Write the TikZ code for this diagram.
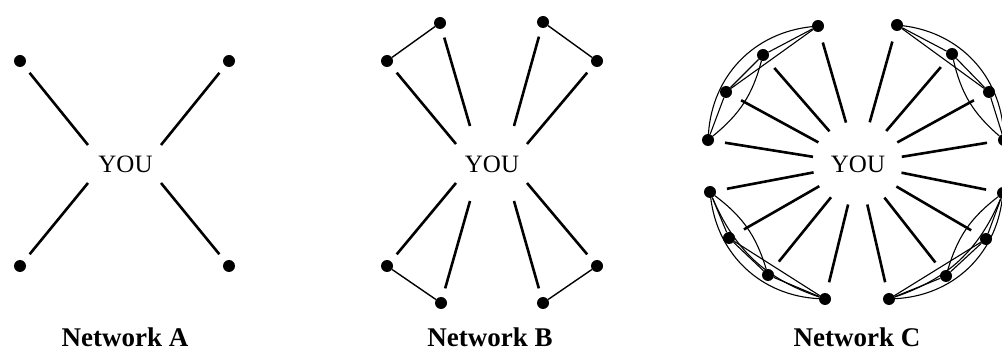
\documentclass[tikz,border=0pt]{standalone}
\usepackage{fontspec}
\setmainfont{Liberation Serif}
\usetikzlibrary{calc}
\begin{document}
\begin{tikzpicture}[x=1pt,y=1pt,
  dot/.style={circle,fill=black,minimum size=12pt,inner sep=0pt},
  you/.style={font=\fontsize{25}{25}\selectfont,inner sep=0pt},
  lbl/.style={font=\fontsize{27}{27}\selectfont\bfseries,inner sep=0pt},
  spoke/.style={line width=2.6pt,shorten <=9pt},
  spokec/.style={line width=2.6pt,shorten <=11pt},
  link/.style={line width=1.4pt},
  thin/.style={line width=1.1pt}]
\useasboundingbox (0,0) rectangle (1002,351);
% ---------- Network A ----------
\node[you] (youA) at (125.5,187) {YOU};
\node[dot] (a1) at (20,290) {};
\node[dot] (a2) at (229,290) {};
\node[dot] (a3) at (20,85) {};
\node[dot] (a4) at (229,85) {};
\coordinate (ta1) at (88,206);
\coordinate (ta2) at (161,206);
\coordinate (ta3) at (88,168);
\coordinate (ta4) at (161,168);
\draw[spoke] (a1) -- (ta1);
\draw[spoke] (a2) -- (ta2);
\draw[spoke] (a3) -- (ta3);
\draw[spoke] (a4) -- (ta4);
\node[lbl] (labA) at (125,14) {Network A};
% ---------- Network B ----------
\node[you] (youB) at (492,187) {YOU};
\node[dot] (b1) at (387,290) {};
\node[dot] (b2) at (440,328) {};
\node[dot] (b3) at (543,329) {};
\node[dot] (b4) at (597,290) {};
\node[dot] (b5) at (387,85) {};
\node[dot] (b6) at (441,48) {};
\node[dot] (b7) at (543,48) {};
\node[dot] (b8) at (597,85) {};
\coordinate (tb1) at (456,207);
\coordinate (tb2) at (470,225);
\coordinate (tb3) at (514,225);
\coordinate (tb4) at (527,207);
\coordinate (tb5) at (456,168);
\coordinate (tb6) at (470,150);
\coordinate (tb7) at (514,150);
\coordinate (tb8) at (527,168);
\foreach \i in {1,...,8} {\draw[spoke] (b\i) -- (tb\i);}
\draw[link] (b1) -- (b2);
\draw[link] (b3) -- (b4);
\draw[link] (b5) -- (b6);
\draw[link] (b7) -- (b8);
\node[lbl] (labB) at (490,14) {Network B};
% ---------- Network C ----------
\node[you] (youC) at (858,187) {YOU};
\node[dot] (c1) at (708,211) {};
\node[dot] (c2) at (726,259) {};
\node[dot] (c3) at (763,296) {};
\node[dot] (c4) at (818,325) {};
\node[dot] (c5) at (1004,211) {};
\node[dot] (c6) at (989,259) {};
\node[dot] (c7) at (952,297) {};
\node[dot] (c8) at (897,326) {};
\node[dot] (c9) at (710,159) {};
\node[dot] (c10) at (729,113) {};
\node[dot] (c11) at (768,76) {};
\node[dot] (c12) at (825,52) {};
\node[dot] (c13) at (1003,158) {};
\node[dot] (c14) at (986,112) {};
\node[dot] (c15) at (946,75) {};
\node[dot] (c16) at (889,52) {};
\foreach \i in {1,...,16} {\draw[spokec] (c\i) -- ($(c\i)!0.70!(youC.center)$);}
% top-left
\draw[thin] (c1) -- (c2); \draw[thin] (c2) -- (c3); \draw[thin] (c3) -- (c4); \draw[thin] (c2) -- (c4);
\draw[thin] (c1) to[bend right=18] (c3);
\draw[thin] (c1) to[bend left=40] (c4);
% top-right
\draw[thin] (c5) -- (c6); \draw[thin] (c6) -- (c7); \draw[thin] (c7) -- (c8); \draw[thin] (c6) -- (c8);
\draw[thin] (c5) to[bend left=18] (c7);
\draw[thin] (c5) to[bend right=40] (c8);
% lower-left
\draw[thin] (c9) -- (c10); \draw[thin] (c10) -- (c11); \draw[thin] (c11) -- (c12); \draw[thin] (c10) -- (c12);
\draw[thin] (c9) to[bend left=18] (c11);
\draw[thin] (c9) to[bend right=40] (c12);
\draw[thin] (c9) to[bend right=24] (c12);
% lower-right
\draw[thin] (c13) -- (c14); \draw[thin] (c14) -- (c15); \draw[thin] (c15) -- (c16); \draw[thin] (c14) -- (c16);
\draw[thin] (c13) to[bend right=18] (c15);
\draw[thin] (c13) to[bend left=40] (c16);
\draw[thin] (c13) to[bend left=24] (c16);
\node[lbl] (labC) at (857,14) {Network C};
\end{tikzpicture}
\end{document}
